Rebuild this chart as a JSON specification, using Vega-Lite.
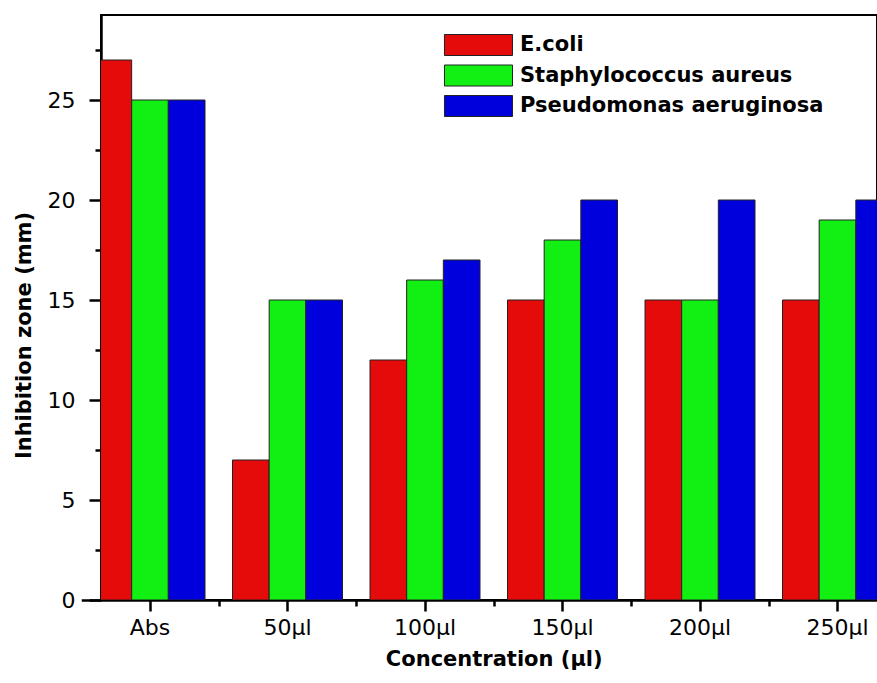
{
  "$schema": "https://vega.github.io/schema/vega-lite/v6.json",
  "width": 776,
  "height": 585,
  "autosize": {"type": "none"},
  "padding": {"left": 101, "top": 15, "right": 0, "bottom": 83},
  "background": "white",
  "config": {"view": {"stroke": "black", "strokeWidth": 2}, "font": "DejaVu Sans"},
  "data": {"values": [
    {"conc": "Abs", "organism": "E.coli", "zone": 27},
    {"conc": "Abs", "organism": "Staphylococcus aureus", "zone": 25},
    {"conc": "Abs", "organism": "Pseudomonas aeruginosa", "zone": 25},
    {"conc": "50µl", "organism": "E.coli", "zone": 7},
    {"conc": "50µl", "organism": "Staphylococcus aureus", "zone": 15},
    {"conc": "50µl", "organism": "Pseudomonas aeruginosa", "zone": 15},
    {"conc": "100µl", "organism": "E.coli", "zone": 12},
    {"conc": "100µl", "organism": "Staphylococcus aureus", "zone": 16},
    {"conc": "100µl", "organism": "Pseudomonas aeruginosa", "zone": 17},
    {"conc": "150µl", "organism": "E.coli", "zone": 15},
    {"conc": "150µl", "organism": "Staphylococcus aureus", "zone": 18},
    {"conc": "150µl", "organism": "Pseudomonas aeruginosa", "zone": 20},
    {"conc": "200µl", "organism": "E.coli", "zone": 15},
    {"conc": "200µl", "organism": "Staphylococcus aureus", "zone": 15},
    {"conc": "200µl", "organism": "Pseudomonas aeruginosa", "zone": 20},
    {"conc": "250µl", "organism": "E.coli", "zone": 15},
    {"conc": "250µl", "organism": "Staphylococcus aureus", "zone": 19},
    {"conc": "250µl", "organism": "Pseudomonas aeruginosa", "zone": 20}
  ]},
  "layer": [
    {
      "mark": {"type": "bar", "clip": true, "stroke": "#222222", "strokeWidth": 1},
      "encoding": {
        "x": {
          "field": "conc", "type": "nominal",
          "sort": ["Abs", "50µl", "100µl", "150µl", "200µl", "250µl"],
          "scale": {"type": "band", "range": [-19.75, 805.25], "paddingInner": 0.2, "paddingOuter": 0.1},
          "axis": {
            "title": "Concentration (µl)", "labelAngle": 0,
            "labelFont": "DejaVu Sans", "labelFontSize": 22, "labelColor": "black", "labelPadding": 6,
            "tickSize": 11, "tickWidth": 2.5, "tickColor": "black",
            "domainColor": "black", "domainWidth": 2.5,
            "titleFont": "DejaVu Sans", "titleFontWeight": "bold", "titleFontSize": 21, "titleColor": "black", "titlePadding": 10
          }
        },
        "xOffset": {
          "field": "organism", "type": "nominal",
          "sort": ["E.coli", "Staphylococcus aureus", "Pseudomonas aeruginosa"],
          "scale": {"paddingInner": 0, "paddingOuter": 0}
        },
        "y": {
          "field": "zone", "type": "quantitative",
          "scale": {"domain": [0, 29.25], "nice": false, "zero": true},
          "axis": {
            "values": [0, 5, 10, 15, 20, 25], "grid": false,
            "title": "Inhibition zone (mm)", "titleY": 320,
            "labelFont": "DejaVu Sans", "labelFontSize": 22, "labelColor": "black", "labelPadding": 14,
            "tickSize": 12, "tickWidth": 2.5, "tickColor": "black",
            "domainColor": "black", "domainWidth": 2.5,
            "titleFont": "DejaVu Sans", "titleFontWeight": "bold", "titleFontSize": 21, "titleColor": "black", "titlePadding": 13
          }
        },
        "color": {
          "field": "organism", "type": "nominal",
          "sort": ["E.coli", "Staphylococcus aureus", "Pseudomonas aeruginosa"],
          "scale": {"domain": ["E.coli", "Staphylococcus aureus", "Pseudomonas aeruginosa"], "range": ["#E60B0B", "#12EF12", "#0000DC"]},
          "legend": {
            "orient": "none", "legendX": 366.5, "legendY": 19, "title": null,
            "symbolType": "M-3.24,-1H3.24V1H-3.24Z", "symbolSize": 441,
            "symbolStrokeColor": "#222222", "symbolStrokeWidth": 1, "symbolOpacity": 1,
            "labelFont": "DejaVu Sans", "labelFontWeight": "bold", "labelFontSize": 21, "labelColor": "black", "labelLimit": 0,
            "labelOffset": 30.5, "rowPadding": 4.5, "padding": 0
          }
        }
      }
    },
    {
      "mark": {"type": "bar", "opacity": 0},
      "encoding": {
        "x": {
          "field": "conc", "type": "nominal",
          "sort": ["Abs", "50µl", "100µl", "150µl", "200µl", "250µl"],
          "axis": {
            "orient": "bottom", "values": ["50µl", "100µl", "150µl", "200µl", "250µl"],
            "bandPosition": 0, "tickOffset": -13.75, "labels": false, "domain": false, "title": null,
            "tickSize": 6, "tickWidth": 2.5, "tickColor": "black"
          }
        },
        "y": {
          "field": "zone", "type": "quantitative", "stack": null,
          "axis": {
            "orient": "left", "values": [2.5, 7.5, 12.5, 17.5, 22.5, 27.5], "labels": false, "domain": false, "title": null, "grid": false,
            "tickSize": 6, "tickWidth": 2.5, "tickColor": "black"
          }
        }
      }
    }
  ],
  "resolve": {"axis": {"x": "independent", "y": "independent"}}
}
